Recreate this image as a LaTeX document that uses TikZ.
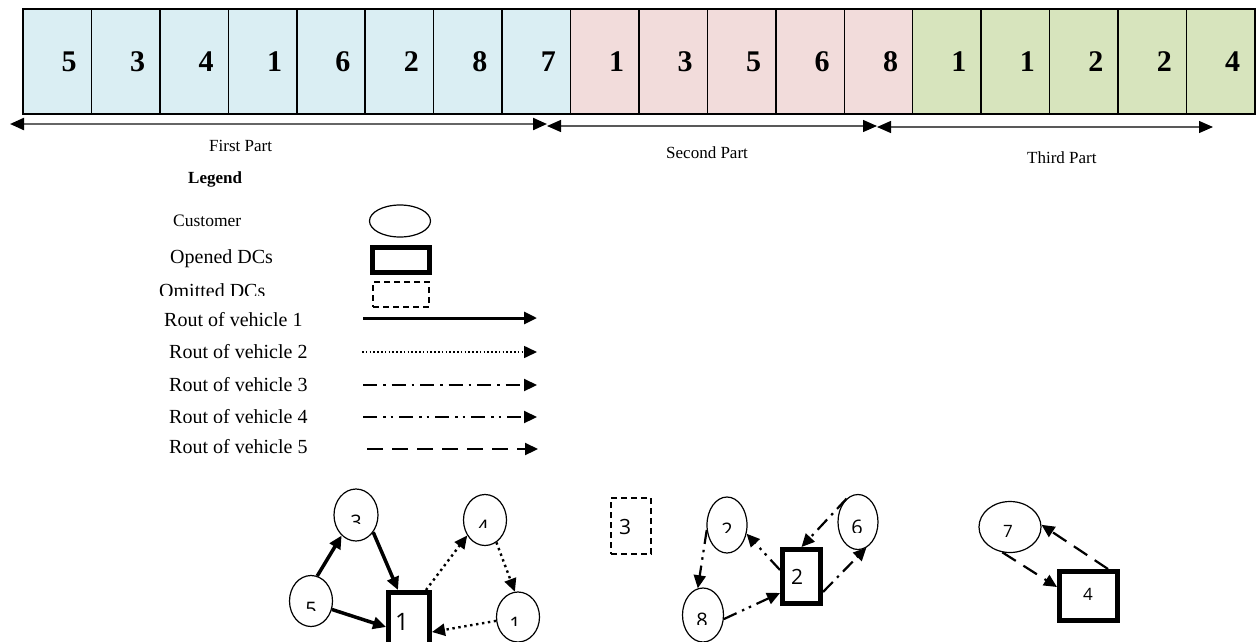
\documentclass[tikz,border=0pt]{standalone}
\usepackage{fontspec}
\setmainfont{Liberation Serif}
\newfontfamily\graphfont{Open Sans}
\usetikzlibrary{arrows.meta,shapes.geometric}

\definecolor{cellblue}{HTML}{DAEEF3}
\definecolor{cellpink}{HTML}{F2DCDB}
\definecolor{cellgreen}{HTML}{D7E4BD}

% label whose lower part is cut off: name, x, top y, cut y, text
\newcommand\cutlbl[5]{%
  \begin{scope}
    \clip (#2-14,#3-4) rectangle (#2+14,#4);
    \node[gnum, anchor=north] (#1) at (#2,#3) {#5};
  \end{scope}}

\begin{document}
\begin{tikzpicture}[x=1pt,y=-1pt,
  cell/.style={draw, line width=1.5pt, minimum width=68.44pt, minimum height=105pt, inner sep=0pt, outer sep=0pt},
  gene/.style={font=\fontsize{30}{30}\selectfont\bfseries, inner sep=0pt},
  partarrow/.style={draw=black!65, line width=1.3pt,
    {Triangle[length=14pt,width=12pt,color=black]}-{Triangle[length=14pt,width=12pt,color=black]}},
  parttxt/.style={anchor=base west, inner sep=0pt, font=\fontsize{17}{20}\selectfont},
  legtxt/.style={anchor=base west, inner sep=0pt, font=\fontsize{20}{24}\selectfont},
  cust/.style={ellipse, draw, line width=1.2pt, inner sep=0pt},
  dcopen/.style={rectangle, draw, line width=5pt, inner sep=0pt},
  dcomit/.style={rectangle, draw, line width=1.8pt, dash pattern=on 6pt off 4pt, inner sep=0pt},
  gnum/.style={inner sep=0pt, font=\graphfont\fontsize{20}{20}\selectfont},
  tipg/.style={-{Triangle[length=13pt,width=12pt]}},
  v1route/.style={line width=3.5pt, tipg},
  v2route/.style={line width=2.4pt, dash pattern=on 2.4pt off 3.6pt, tipg},
  v3route/.style={line width=2.2pt, dash pattern=on 14pt off 6pt on 2.5pt off 6pt, tipg},
  v4route/.style={line width=2.2pt, dash pattern=on 14pt off 6pt on 2.5pt off 5pt on 2.5pt off 6pt, tipg},
  v5route/.style={line width=2.2pt, dash pattern=on 16pt off 9pt, tipg}]

\clip (0,0) rectangle (1256,641);

% chromosome cells
\foreach \d [count=\i] in {5,3,4,1,6,2,8,7,1,3,5,6,8,1,1,2,2,4}{
  \ifnum\i<9 \def\cc{cellblue}\else\ifnum\i<14 \def\cc{cellpink}\else\def\cc{cellgreen}\fi\fi
  \node[cell, fill=\cc] (c\i) at ({23+(\i-0.5)*68.44},61.5) {};
  \node[gene] (g\i) at ([xshift=12pt]c\i.center) {\d};
}
\draw[line width=2pt] (c1.north west) rectangle (c18.south east);

% part markers
\coordinate (p1a) at (10,124);
\coordinate (p1b) at (547,124);
\coordinate (p2a) at (547,126);
\coordinate (p2b) at (877,126);
\coordinate (p3a) at (877,127);
\coordinate (p3b) at (1213,127);
\draw[partarrow, line width=2.2pt, draw=black!60] (p1a) -- (p1b);
\draw[partarrow] (p2a) -- (p2b);
\draw[partarrow] (p3a) -- (p3b);
\node[parttxt] (t1) at (209,151) {First Part};
\node[parttxt] (t2) at (666,158) {Second Part};
\node[parttxt] (t3) at (1027,163) {Third Part};

% legend
\node[parttxt, font=\fontsize{17}{20}\selectfont\bfseries] (leg) at (188,183) {Legend};
\node[parttxt, font=\fontsize{17.5}{20}\selectfont] (lcust) at (173,226) {Customer};
\node[legtxt] (lopen) at (170,263) {Opened DCs};
\begin{scope}
  \clip (150,278) rectangle (300,295);
  \node[legtxt] (lomit) at (159,297.5) {Omitted DCs};
\end{scope}
\node[cust, minimum width=61pt, minimum height=32pt] (scust) at (400,221) {};
\node[dcopen, minimum width=57pt, minimum height=25pt] (sopen) at (401,260) {};
\node[dcomit, minimum width=56pt, minimum height=25pt] (somit) at (401,294.5) {};

\node[legtxt] (lv1) at (164,326) {Rout of vehicle 1};
\node[legtxt] (lv2) at (169,358) {Rout of vehicle 2};
\node[legtxt] (lv3) at (169,391.5) {Rout of vehicle 3};
\begin{scope}
  \clip (150,400) rectangle (320,422.5);
  \node[legtxt] (lv4) at (169,423.5) {Rout of vehicle 4};
\end{scope}
\node[legtxt] (lv5) at (169,453) {Rout of vehicle 5};

\coordinate (v1a) at (363,318);
\coordinate (v1b) at (537,318);
\coordinate (v2a) at (362,352);
\coordinate (v2b) at (537,352);
\coordinate (v3a) at (363,385);
\coordinate (v3b) at (537,385);
\coordinate (v4a) at (363,417);
\coordinate (v4b) at (537,417);
\coordinate (v5a) at (367,449);
\coordinate (v5b) at (538,449);
\draw[v1route, line width=3pt] (v1a) -- (v1b);
\draw[v2route, line width=1.6pt, dash pattern=on 1.6pt off 2.2pt] (v2a) -- (v2b);
\draw[v3route] (v3a) -- (v3b);
\draw[v4route] (v4a) -- (v4b);
\draw[v5route] (v5a) -- (v5b);

% DC 1 and its customers
\node[cust, minimum width=44pt, minimum height=52pt] (e3) at (356,515) {};
\node[cust, minimum width=43pt, minimum height=51pt] (e4) at (485,520) {};
\node[cust, minimum width=43pt, minimum height=51pt] (e5) at (311,601) {};
\node[cust, minimum width=43pt, minimum height=50pt] (e1) at (518,617) {};
\node[dcopen, minimum width=41pt, minimum height=60pt] (r1) at (409,622.5) {};
\node[gnum, font=\graphfont\fontsize{24}{24}\selectfont] (n1) at (402,621.5) {1};
\cutlbl{n3}{356}{515}{523}{3}
\cutlbl{n4}{483}{520}{527}{4}
\cutlbl{n5}{311}{602}{610}{5}
\cutlbl{n1b}{515}{617}{625}{1}

\draw[v1route] (e5.76) -- (e3.235);
\draw[v1route] (e3.315) -- ([xshift=-11pt]r1.north);
\draw[v1route] (e5.338) -- ([yshift=-4.5pt]r1.west);
\draw[v2route] ([xshift=17pt]r1.north) -- (e4.221);
\draw[v2route] (e4.297) -- (e1.97);
\draw[v2route] (e1.190) -- ([yshift=-9.5pt]r1.east);

% DC 2, omitted DC 3 and their customers
\node[dcomit, minimum width=40pt, minimum height=56pt] (d3) at (631,526) {};
\node[gnum, font=\graphfont\fontsize{21}{21}\selectfont] (n3b) at (625,527) {3};
\node[cust, minimum width=40pt, minimum height=56pt] (e2) at (727,525) {};
\node[cust, minimum width=40pt, minimum height=55pt] (e6) at (858,522) {};
\node[cust, minimum width=41pt, minimum height=54pt] (e8) at (703,615) {};
\node[dcopen, minimum width=38pt, minimum height=54pt] (r2) at (801.5,576.5) {};
\node[gnum, font=\graphfont\fontsize{21}{21}\selectfont] (n2) at (797,577) {2};
\cutlbl{n2b}{727}{523}{532}{2}
\cutlbl{n6}{857}{520}{532}{6}
\cutlbl{n8}{702}{613}{624}{8}

\draw[v4route] ([yshift=6.5pt]r2.west) -- (e2.336);
\draw[v4route] (e2.194) -- (e8.101);
\draw[v4route] (e8.349) -- ([yshift=-16.5pt]r2.west);
\draw[v3route] ([yshift=-15.5pt]r2.east) -- (e6.288);
\draw[v3route] (e6.116) -- (r2.north);

% DC 4 and its customer
\node[cust, minimum width=62pt, minimum height=51pt] (e7) at (1010,527) {};
\node[gnum, font=\graphfont\fontsize{17}{17}\selectfont] (n7) at (1008,531) {7};
\node[dcopen, minimum width=58pt, minimum height=49pt] (r4) at (1088.5,596) {};
\node[gnum, font=\graphfont\fontsize{17}{17}\selectfont] (n4b) at (1088,594) {4};

\draw[v5route] (e7.253) -- ([yshift=9pt]r4.west);
\draw[v5route] ([xshift=19.5pt]r4.north) -- (e7.4);

\end{tikzpicture}
\end{document}
